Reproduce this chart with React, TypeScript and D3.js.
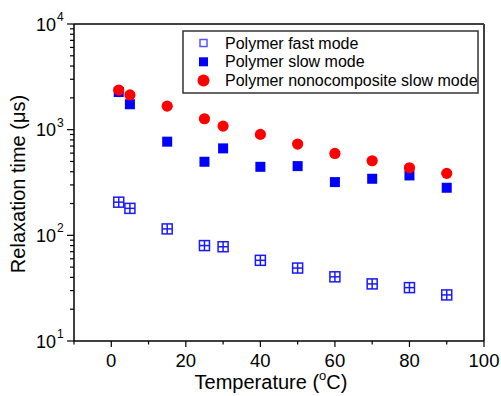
import React from "react";
import * as d3 from "d3";

const temperatures = [2, 5, 15, 25, 30, 40, 50, 60, 70, 80, 90];
const fastMode = [206, 180, 115, 80, 78, 58, 49, 40.5, 34.7, 32, 27.3];
const slowMode = [2270, 1740, 770, 497, 665, 445, 452, 319, 343, 369, 282];
const nanoSlowMode = [2370, 2130, 1670, 1268, 1081, 902, 731, 596, 508, 436, 386];
const xTicks = [0, 20, 40, 60, 80, 100];
const xMinorTicks = [-10, 10, 30, 50, 70, 90];
const yExponents = [1, 2, 3, 4];
const legendLabels = [
  "Polymer fast mode",
  "Polymer slow mode",
  "Polymer nonocomposite slow mode",
];

const W = 501;
const H = 396;
const M = { left: 74, right: 484, top: 24, bottom: 341 };
const FONT = "Liberation Sans, Arial, sans-serif";

export default function App() {
  const x = d3.scaleLinear().domain([-10, 100]).range([M.left, M.right]);
  const y = d3.scaleLog().domain([10, 10000]).range([M.bottom, M.top]);

  const yMinor: number[] = [];
  for (let e = 1; e < 4; e++) {
    for (let k = 2; k <= 9; k++) yMinor.push(k * Math.pow(10, e));
  }

  const sq = 10;
  const sqS = 10;
  const rC = 5.6;

  return (
    <svg
      width={W}
      height={H}
      style={{ position: "absolute", left: 0, top: 0, background: "#fff" }}
      fontFamily={FONT}
    >
      <rect x={0} y={0} width={W} height={H} fill="#fff" />
      {/* frame top/right */}
      <line x1={M.left} y1={M.top} x2={M.right} y2={M.top} stroke="#404040" strokeWidth={2} />
      <line x1={M.right} y1={M.top} x2={M.right} y2={M.bottom} stroke="#404040" strokeWidth={2} />
      {/* axes */}
      <line x1={M.left} y1={M.top} x2={M.left} y2={M.bottom} stroke="#000" strokeWidth={1.5} />
      <line x1={M.left} y1={M.bottom} x2={M.right} y2={M.bottom} stroke="#000" strokeWidth={1.5} />

      {/* x ticks */}
      {xTicks.map((t) => (
        <g key={"xt" + t}>
          <line x1={x(t)} x2={x(t)} y1={M.bottom} y2={M.bottom + 6} stroke="#000" strokeWidth={1.2} />
          <text x={x(t)} y={367} textAnchor="middle" fontSize={18.5}>
            {t}
          </text>
        </g>
      ))}
      {xMinorTicks.map((t) => (
        <line key={"xm" + t} x1={x(t)} x2={x(t)} y1={M.bottom} y2={M.bottom + 3.5} stroke="#000" strokeWidth={1.2} />
      ))}

      {/* y ticks */}
      {yExponents.map((e) => {
        const v = Math.pow(10, e);
        return (
          <g key={"yt" + e}>
            <line x1={M.left - 7} x2={M.left} y1={y(v)} y2={y(v)} stroke="#000" strokeWidth={1.2} />
            <text x={36} y={y(v) + 6.5} fontSize={18}>
              10
              <tspan fontSize={12} dy={-9.5} dx={1}>
                {e}
              </tspan>
            </text>
          </g>
        );
      })}
      {yMinor.map((v) => (
        <line key={"ym" + v} x1={M.left - 4} x2={M.left} y1={y(v)} y2={y(v)} stroke="#000" strokeWidth={1.2} />
      ))}

      {/* axis titles */}
      <text x={271} y={389} textAnchor="middle" fontSize={20}>
        Temperature (
        <tspan fontSize={13} dy={-9}>o</tspan>
        <tspan dy={9}>C)</tspan>
      </text>
      <text
        transform={`translate(25, ${184}) rotate(-90)`}
        textAnchor="middle"
        fontSize={20}
      >
        Relaxation time (μs)
      </text>

      {/* fast mode: open squares with error cross */}
      {temperatures.map((t, i) => {
        const cx = x(t);
        const cy = y(fastMode[i]);
        return (
          <g key={"f" + i} stroke="#1a1aff" strokeWidth={1.5} fill="none">
            <rect x={cx - sq / 2} y={cy - sq / 2} width={sq} height={sq} />
            <line x1={cx - sq / 2} x2={cx + sq / 2} y1={cy} y2={cy} />
            <line x1={cx} x2={cx} y1={cy - sq / 2} y2={cy + sq / 2} />
          </g>
        );
      })}
      {/* slow mode filled squares */}
      {temperatures.map((t, i) => (
        <rect
          key={"s" + i}
          x={x(t) - sqS / 2}
          y={y(slowMode[i]) - sqS / 2}
          width={sqS}
          height={sqS}
          fill="#0000ff"
        />
      ))}
      {/* nanocomposite red circles */}
      {temperatures.map((t, i) => (
        <circle key={"n" + i} cx={x(t)} cy={y(nanoSlowMode[i])} r={rC} fill="#ff0000" />
      ))}

      {/* legend */}
      <rect x={183} y={31} width={295} height={62} fill="#fff" stroke="#333" strokeWidth={1.5} />
      {legendLabels.map((lab, i) => {
        const ly = 43 + i * 18.8;
        return (
          <g key={"l" + i}>
            {i === 0 && (
              <rect x={203.5 - 3.5} y={ly - 3.5} width={7} height={7} fill="none" stroke="#5555ff" strokeWidth={1.5} />
            )}
            {i === 1 && <rect x={203.5 - 4.5} y={ly - 4.5} width={9} height={9} fill="#0000ff" />}
            {i === 2 && <circle cx={203.5} cy={ly} r={6} fill="#ff0000" />}
            <text x={225} y={ly + 5.5} fontSize={16}>
              {lab}
            </text>
          </g>
        );
      })}
    </svg>
  );
}
